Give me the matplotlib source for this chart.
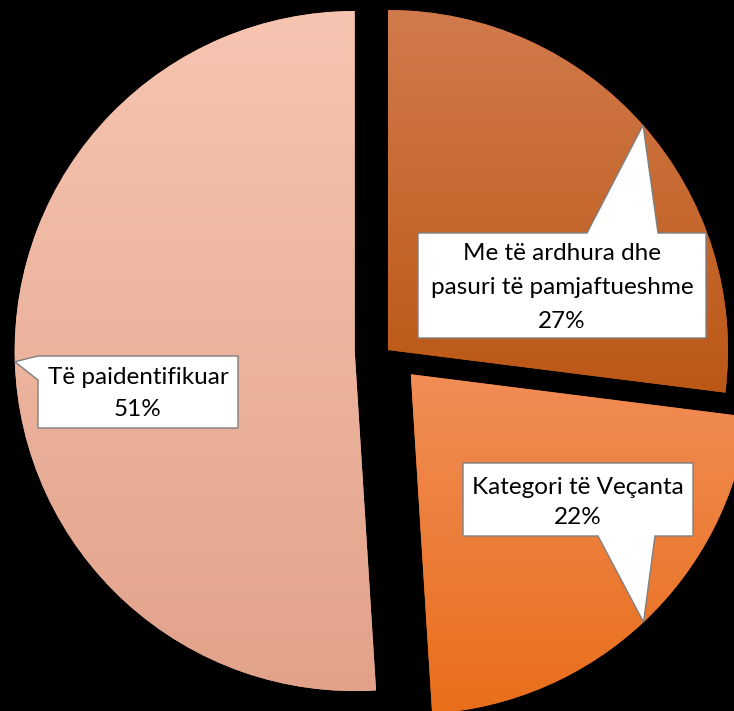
import numpy as np
import matplotlib
matplotlib.use("Agg")
import matplotlib.pyplot as plt
from matplotlib.colors import LinearSegmentedColormap
from matplotlib.patches import Polygon

# ---- data ----
categories = ["Me të ardhura dhe\npasuri të pamjaftueshme", "Kategori të Veçanta", "Të paidentifikuar"]
values = [27, 22, 51]

# ---- style ----
top_colors = ["#D17A4C", "#F18D57", "#F6C5B1"]
bot_colors = ["#BC5816", "#E86E1A", "#E2A28A"]
W, H = 734, 711
R = 340
explode_frac = [0.0, 0.098, 0.098]

plt.rcParams['font.family'] = ['Lato', 'DejaVu Sans']
fig = plt.figure(figsize=(W / 100, H / 100), dpi=100, facecolor="black")
ax = fig.add_axes([0, 0, 1, 1])
ax.set_facecolor("black")

wedges, _ = ax.pie(values, center=(388, H - 350), radius=R, startangle=90,
                   counterclock=False, explode=[e * R for e in explode_frac],
                   frame=True, wedgeprops=dict(linewidth=0))
ax.set_xlim(0, W)
ax.set_ylim(0, H)
ax.set_aspect("equal")
ax.axis("off")

tips = []
for w, c0, c1 in zip(wedges, top_colors, bot_colors):
    verts = w.get_patch_transform().transform(w.get_path().vertices)
    x0, y0 = verts.min(axis=0)
    x1, y1 = verts.max(axis=0)
    w.set_facecolor(c1)
    cmap = LinearSegmentedColormap.from_list("g", [c1, c0])
    grad = np.linspace(0, 1, 256).reshape(-1, 1)
    im = ax.imshow(grad, cmap=cmap, extent=[x0, x1, y0, y1], origin="lower",
                   aspect="auto", zorder=1.5)
    im.set_clip_path(w)
    tm = np.deg2rad((w.theta1 + w.theta2) / 2)
    cx, cy = w.center
    tips.append((cx + w.r * np.cos(tm), cy + w.r * np.sin(tm)))

ax.set_xlim(0, W)
ax.set_ylim(0, H)

# callout boxes in pixel coordinates (y down)
boxes = [
    dict(box=(418, 233, 706, 338), side="top", base=(587, 658), ty=(253, 287, 321)),
    dict(box=(463, 463, 693, 536), side="bottom", base=(598, 655), ty=(487, 518)),
    dict(box=(38, 356, 238, 428), side="left", base=(356, 380), ty=(378, 410)),
]

def P(x, y):
    return (x, H - y)

for b, tip, cat, val in zip(boxes, tips, categories, values):
    x0, y0, x1, y1 = b["box"]
    a, c = b["base"]
    if b["side"] == "top":
        pts = [P(x0, y0), P(a, y0), tip, P(c, y0), P(x1, y0), P(x1, y1), P(x0, y1)]
    elif b["side"] == "bottom":
        pts = [P(x0, y0), P(x1, y0), P(x1, y1), P(c, y1), tip, P(a, y1), P(x0, y1)]
    else:
        pts = [P(x0, y0), P(x1, y0), P(x1, y1), P(x0, y1), P(x0, c), tip, P(x0, a)]
    ax.add_patch(Polygon(pts, closed=True, facecolor="white", edgecolor="#7F7F7F",
                         linewidth=1.0, zorder=5))
    lines = cat.split("\n") + [f"{val}%"]
    xc = (x0 + x1) / 2
    for line, ty in zip(lines, b["ty"]):
        ax.text(xc, H - ty, line, ha="center", va="center", fontsize=17.5,
                color="black", zorder=6)

fig.savefig("out.png", dpi=100, facecolor="black")
